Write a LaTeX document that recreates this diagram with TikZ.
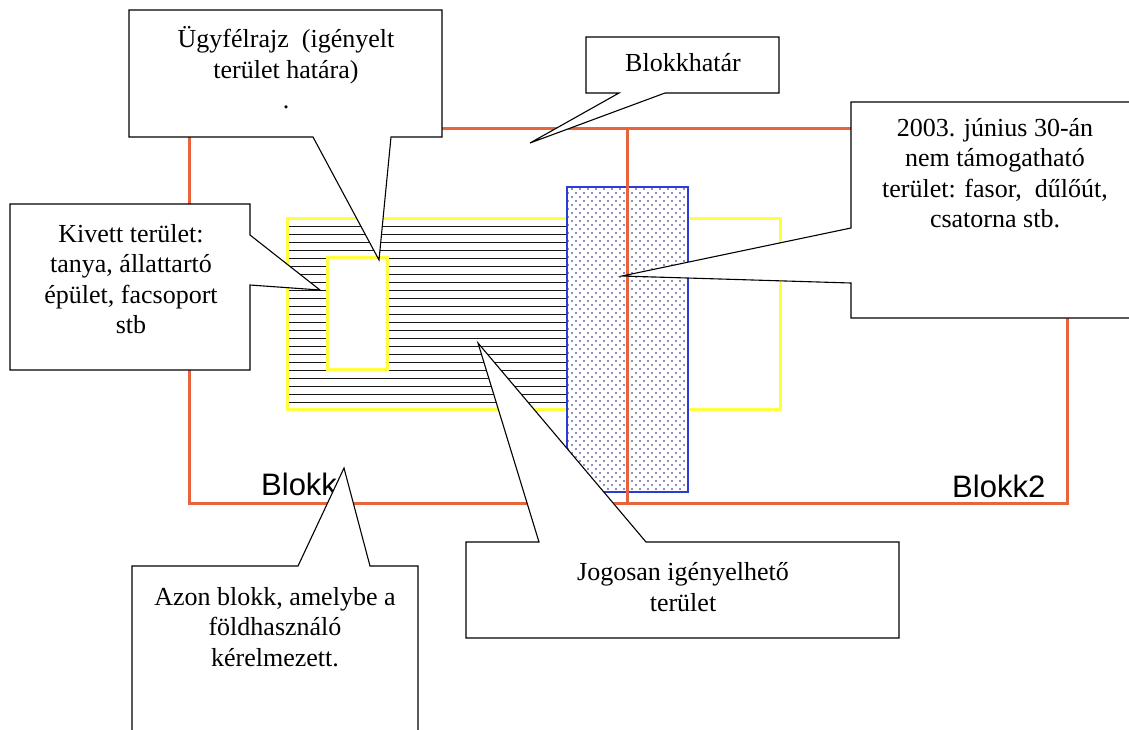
\documentclass[tikz,border=0pt]{standalone}
\usepackage{fontspec}
\setmainfont{Liberation Serif}
\newfontfamily\blokkfont{Liberation Sans}
\usetikzlibrary{patterns}
\definecolor{blokkred}{HTML}{E8643C}
\definecolor{claimyellow}{HTML}{FFFF40}
\definecolor{tilosblue}{HTML}{2B3BD6}
\definecolor{tilosdot}{HTML}{1A1A80}
\pgfdeclarepatternformonly{tilosdots}{\pgfqpoint{-1pt}{-1pt}}{\pgfqpoint{9pt}{9pt}}{\pgfqpoint{8pt}{8pt}}{
  \pgfpathcircle{\pgfqpoint{0pt}{0pt}}{0.9pt}
  \pgfpathcircle{\pgfqpoint{4pt}{4pt}}{0.9pt}
  \pgfusepath{fill}
}
\tikzset{
  block/.style={draw=blokkred, line width=3pt},
  claim/.style={draw=claimyellow, line width=3pt},
  hatch/.style={draw=black!90, line width=0.9pt},
  banned/.style={draw=tilosblue, line width=1.5pt},
  callout/.style={draw=black, fill=white, line width=1.1pt, line join=miter},
  lab/.style={font=\fontsize{26}{30.5}\selectfont, align=center, inner sep=0pt},
  blab/.style={font=\blokkfont\fontsize{31}{36}\selectfont, anchor=base west, inner sep=0pt},
}
\begin{document}
\begin{tikzpicture}[x=1pt,y=-1pt]
  \useasboundingbox (0,0) rectangle (1129,729);
  \fill[white] (0,0) rectangle (1129,729);
  % igenyelt terulet
  \draw[claim] (287,218) rectangle (780,409);
  \foreach \y in {226,234,...,402}{
    \draw[hatch] (289,\y) -- (566,\y);
  }
  \draw[claim, fill=white] (327,257) rectangle (387,369);
  % nem tamogathato sav
  \fill[white] (567,187) rectangle (688,492);
  \fill[pattern=tilosdots, pattern color=tilosdot] (567,187) rectangle (688,492);
  \draw[banned] (567,187) rectangle (688,492);
  % blokkok
  \draw[block] (189,128) rectangle (1067,503);
  \draw[block] (627,128) -- (627,503);
  \node[blab] (blokk1) at (261,495) {Blokk};
  \node[blab] (blokk2) at (952,497) {Blokk2};
  % callouts
  \coordinate (ugytip) at (379,260);
  \coordinate (hatartip) at (530,143);
  \coordinate (tilostip) at (622,276);
  \coordinate (kivetttip) at (320,290);
  \coordinate (azontip) at (344,468);
  \coordinate (jogtip) at (478,343);
  \draw[callout] (129,10) -- (442,10) -- (442,137) -- (391,137) -- (ugytip)
    -- (313,137) -- (129,137) -- cycle;
  \draw[callout] (586,37) -- (779,37) -- (779,93) -- (665,93) -- (hatartip)
    -- (619,93) -- (586,93) -- cycle;
  \draw[callout] (851,102) -- (1140,102) -- (1140,318) -- (851,318) -- (851,283)
    -- (tilostip) -- (851,228) -- cycle;
  \draw[callout] (10,204) -- (250,204) -- (250,235) -- (kivetttip) -- (250,285)
    -- (250,370) -- (10,370) -- cycle;
  \draw[callout] (132,566) -- (298,566) -- (azontip) -- (370,566) -- (418,566)
    -- (418,740) -- (132,740) -- cycle;
  \draw[callout] (466,542) -- (539,542) -- (jogtip) -- (646,542) -- (899,542)
    -- (899,638) -- (466,638) -- cycle;
  % texts
  \node[lab] (ugyfel) at (286,68) {Ügyfélrajz\ \ (igényelt\\terület határa)\\.};
  \node[lab] (hatar) at (683,63) {Blokkhatár};
  \node[lab] (tilos) at (995,173) {2003. június 30-án\\nem támogatható\\terület: fasor,\ \ dűlőút,\\csatorna stb.};
  \node[lab] (kivett) at (131,279) {Kivett terület:\\tanya, állattartó\\épület, facsoport\\stb};
  \node[lab] (azon) at (275,627) {Azon blokk, amelybe a\\földhasználó\\kérelmezett.};
  \node[lab] (jogos) at (683,587) {Jogosan igényelhető\\terület};
\end{tikzpicture}
\end{document}
